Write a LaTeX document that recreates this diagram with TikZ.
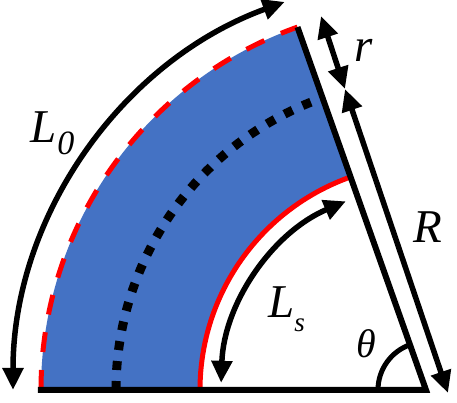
\documentclass[tikz,border=0pt]{standalone}
\usepackage{fontspec}
\setmainfont{Liberation Serif}
\usetikzlibrary{arrows.meta}
\definecolor{fillblue}{RGB}{68,114,196}
\begin{document}
\begin{tikzpicture}[x=1pt,y=1pt,
  arr/.style={line width=5.5pt, {Triangle[length=22pt,width=20pt]}-{Triangle[length=22pt,width=20pt]}},
  lab/.style={inner sep=0pt, font=\fontsize{47}{50}\selectfont\itshape},
  edge/.style={line width=6pt, line join=miter}]
\useasboundingbox (-426,-13) rectangle (31,390);
\coordinate (C) at (0,0);
\coordinate (Ob) at (180:388);
\coordinate (Ot) at (109.5:385);
% band
\fill[fillblue] (180:385) arc[start angle=180,end angle=109.5,radius=385]
  -- (109.5:226) arc[start angle=109.5,end angle=180,radius=226] -- cycle;
% outer red dashed
\draw[red, line width=5pt, dash pattern=on 20pt off 18pt]
  (180:385) arc[start angle=180,end angle=109.5,radius=385];
% inner red
\draw[red, line width=5pt] (180:226) arc[start angle=180,end angle=109.5,radius=226];
% dotted middle
\draw[black, line width=9pt, dash pattern=on 9pt off 11pt]
  (180:310) arc[start angle=180,end angle=109.5,radius=310];
% black edges
\draw[edge] (Ob) -- (C) -- (Ot);
% theta arc
\draw[line width=5pt] (180:48) arc[start angle=180,end angle=109.5,radius=48];
% arrows
\coordinate (M) at (-81,301);
\coordinate (rt) at (-105,374);
\coordinate (Rb) at (22,-3);
\draw[arr] (rt) -- (M);
\draw[arr] (M) -- (Rb);
\draw[arr] (180:413) arc[start angle=180,end angle=110,radius=413];
\draw[arr] (178:205) arc[start angle=178,end angle=113,radius=205];
% labels
\node[lab, anchor=base west] (L0) at (-396,247) {L\kern1pt\raisebox{-12pt}{\fontsize{34}{34}\selectfont 0}};
\node[lab, anchor=base west] (rl) at (-72,328) {r};
\node[lab, anchor=base west] (Rl) at (-13,147) {R};
\node[lab, anchor=base west] (Ls) at (-158,72) {L\raisebox{-14pt}{\fontsize{27}{27}\selectfont s}};
\node[lab, font=\fontsize{40}{40}\selectfont\itshape] (th) at (-59.5,46.5) {θ};
\end{tikzpicture}
\end{document}
